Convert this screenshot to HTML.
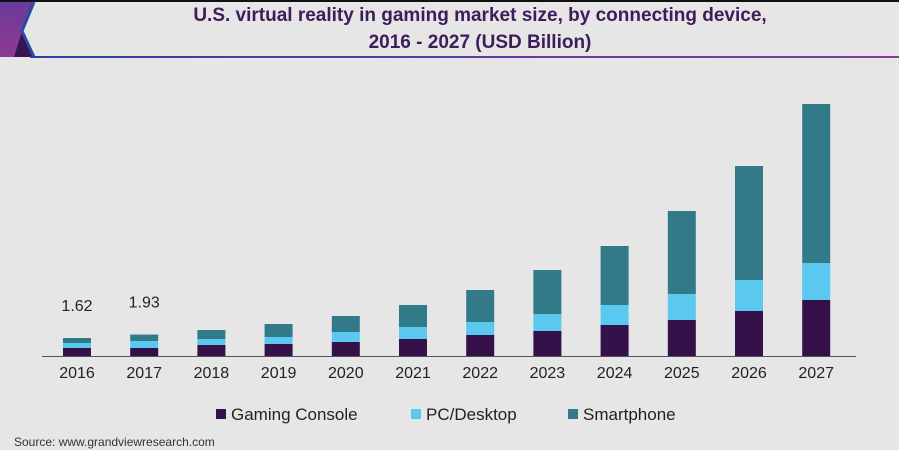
<!DOCTYPE html>
<html><head><meta charset="utf-8"><style>
body{margin:0;background:#e6e6e6;}
#c{position:relative;width:899px;height:450px;overflow:hidden;background:#e6e6e6;font-family:"Liberation Sans",sans-serif;}
</style></head><body>
<div id="c">
<svg width="899" height="450">
<defs><linearGradient id="hl" x1="0" x2="1"><stop offset="0" stop-color="#2f3f9e"/><stop offset="1" stop-color="#8a3a96"/></linearGradient>
<linearGradient id="pg" x1="0" y1="0" x2="0" y2="1"><stop offset="0" stop-color="#6a3a9a"/><stop offset="1" stop-color="#8e3a92"/></linearGradient></defs>
<rect x="0" y="0" width="899" height="2" fill="#111"/>
<polygon points="0,2 34,2 22,31 34,57 0,57" fill="url(#pg)"/>
<polygon points="0,57 14,57 22,31 34,57" fill="#3a1450"/>
<polyline points="34,2 22,31 34,57" fill="none" stroke="#2a4aa8" stroke-width="3"/>
<rect x="30" y="56" width="869" height="2" fill="url(#hl)"/>
<text x="480" y="21" text-anchor="middle" font-size="19" font-weight="bold" fill="#3d1c5a">U.S. virtual reality in gaming market size, by connecting device,</text>
<text x="480" y="48" text-anchor="middle" font-size="19" font-weight="bold" fill="#3d1c5a">2016 - 2027 (USD Billion)</text>
<g id="bars"></g>
<line x1="42" y1="356.5" x2="856" y2="356.5" stroke="#555" stroke-width="1"/>
<g>
<rect x="216" y="409" width="10" height="10" fill="#35114a"/>
<text x="231" y="420" font-size="17" fill="#222">Gaming Console</text>
<rect x="411" y="409" width="10" height="10" fill="#5bc8f0"/>
<text x="426" y="420" font-size="17" fill="#222">PC/Desktop</text>
<rect x="568" y="409" width="10" height="10" fill="#327a87"/>
<text x="583" y="420" font-size="17" fill="#222">Smartphone</text>
</g>
<text x="14" y="446" font-size="12" fill="#333">Source: www.grandviewresearch.com</text>
</svg>
</div>
<script>
const years=["2016","2017","2018","2019","2020","2021","2022","2023","2024","2025","2026","2027"];
const consoleVals=[0.72,0.72,0.99,1.08,1.26,1.53,1.89,2.25,2.79,3.24,4.05,5.04];
const pcVals=[0.45,0.63,0.54,0.63,0.9,1.08,1.17,1.53,1.8,2.34,2.79,3.33];
const phoneVals=[0.45,0.58,0.81,1.17,1.44,1.98,2.88,3.96,5.31,7.47,10.26,14.31];
const labels=["1.62","1.93","","","","","","","","","",""];
const NS="http://www.w3.org/2000/svg";
const g=document.getElementById('bars');
const base=356,pxPer=18/1.62,x0=77,step=67.2,bw=28;
function yS(v){return v*pxPer;}
function xS(i){return x0+i*step;}
const series=[[consoleVals,'#35114a','console'],[pcVals,'#5bc8f0','pc'],[phoneVals,'#327a87','smartphone']];
years.forEach((yr,i)=>{
  let acc=0;
  series.forEach(s=>{
    const h=yS(s[0][i]);
    const r=document.createElementNS(NS,'rect');
    r.setAttribute('x',xS(i)-bw/2);r.setAttribute('y',base-acc-h);
    r.setAttribute('width',bw);r.setAttribute('height',h);r.setAttribute('fill',s[1]);
    
    
    g.appendChild(r);acc+=h;
  });
  const t=document.createElementNS(NS,'text');
  t.setAttribute('x',xS(i));t.setAttribute('y',base+22);t.setAttribute('text-anchor','middle');
  t.setAttribute('font-size','16');t.setAttribute('fill','#222');t.textContent=yr;
  
  
  g.appendChild(t);
  if(labels[i]){
    const l=document.createElementNS(NS,'text');
    l.setAttribute('x',xS(i));l.setAttribute('y',base-acc-27);l.setAttribute('text-anchor','middle');
    l.setAttribute('font-size','16');l.setAttribute('fill','#222');l.textContent=labels[i];
    
    
    g.appendChild(l);
  }
});
</script>
</body></html>
